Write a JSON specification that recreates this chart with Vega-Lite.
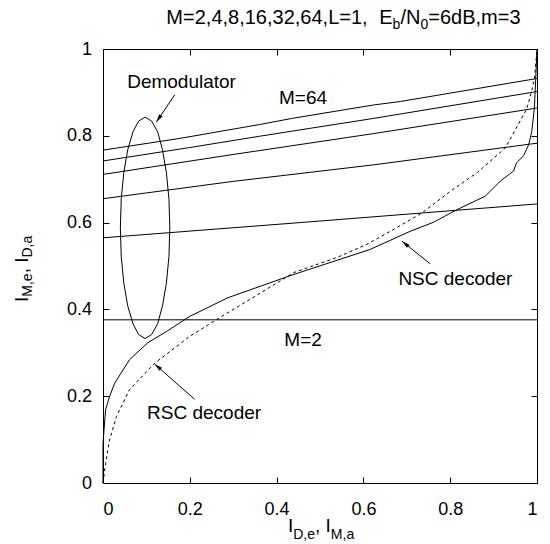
{
  "$schema": "https://vega.github.io/schema/vega-lite/v6.json",
  "width": 434,
  "height": 434,
  "autosize": {"type": "none"},
  "padding": {"left": 103, "top": 49, "right": 13, "bottom": 61},
  "background": "white",
  "config": {
    "view": {"stroke": null},
    "font": "Liberation Sans",
    "axis": {
      "domainColor": "black", "domainWidth": 1, "tickColor": "black", "tickWidth": 1,
      "tickSize": -6, "labelColor": "black", "labelFont": "Liberation Sans",
      "labelFontSize": 18, "grid": false, "title": null
    }
  },
  "datasets": {
    "mlines": [
      {"M": 64, "x": 0, "y": 0.767}, {"M": 64, "x": 0.177, "y": 0.794}, {"M": 64, "x": 0.361, "y": 0.826}, {"M": 64, "x": 0.435, "y": 0.84}, {"M": 64, "x": 0.623, "y": 0.871}, {"M": 64, "x": 0.685, "y": 0.879}, {"M": 64, "x": 1, "y": 0.932},
      {"M": 32, "x": 0, "y": 0.742}, {"M": 32, "x": 0.2, "y": 0.773}, {"M": 32, "x": 0.361, "y": 0.799}, {"M": 32, "x": 0.45, "y": 0.813}, {"M": 32, "x": 0.623, "y": 0.84}, {"M": 32, "x": 1, "y": 0.902},
      {"M": 16, "x": 0, "y": 0.711}, {"M": 16, "x": 0.3, "y": 0.757}, {"M": 16, "x": 0.623, "y": 0.805}, {"M": 16, "x": 1, "y": 0.864},
      {"M": 8, "x": 0, "y": 0.655}, {"M": 8, "x": 0.3, "y": 0.695}, {"M": 8, "x": 0.623, "y": 0.733}, {"M": 8, "x": 1, "y": 0.783},
      {"M": 4, "x": 0, "y": 0.565}, {"M": 4, "x": 0.454, "y": 0.6}, {"M": 4, "x": 1, "y": 0.643},
      {"M": 2, "x": 0, "y": 0.376}, {"M": 2, "x": 1, "y": 0.376}
    ],
    "ellipse": [
      {"x": 0.154, "y": 0.588}, {"x": 0.152, "y": 0.654}, {"x": 0.146, "y": 0.716}, {"x": 0.137, "y": 0.768}, {"x": 0.126, "y": 0.809}, {"x": 0.112, "y": 0.834},
      {"x": 0.097, "y": 0.843}, {"x": 0.082, "y": 0.834}, {"x": 0.069, "y": 0.809}, {"x": 0.057, "y": 0.768}, {"x": 0.048, "y": 0.716}, {"x": 0.042, "y": 0.654},
      {"x": 0.04, "y": 0.588}, {"x": 0.042, "y": 0.522}, {"x": 0.048, "y": 0.46}, {"x": 0.057, "y": 0.408}, {"x": 0.069, "y": 0.367}, {"x": 0.082, "y": 0.342},
      {"x": 0.097, "y": 0.333}, {"x": 0.112, "y": 0.342}, {"x": 0.126, "y": 0.367}, {"x": 0.137, "y": 0.408}, {"x": 0.146, "y": 0.46}, {"x": 0.152, "y": 0.522},
      {"x": 0.154, "y": 0.588}
    ],
    "nsc": [
      {"x": 0, "y": 0}, {"x": 0, "y": 0.092}, {"x": 0.006, "y": 0.169}, {"x": 0.015, "y": 0.199}, {"x": 0.027, "y": 0.23}, {"x": 0.061, "y": 0.284},
      {"x": 0.103, "y": 0.323}, {"x": 0.146, "y": 0.349}, {"x": 0.2, "y": 0.384}, {"x": 0.288, "y": 0.427}, {"x": 0.438, "y": 0.48}, {"x": 0.615, "y": 0.538},
      {"x": 0.708, "y": 0.58}, {"x": 0.762, "y": 0.601}, {"x": 0.816, "y": 0.63}, {"x": 0.881, "y": 0.661}, {"x": 0.916, "y": 0.696}, {"x": 0.946, "y": 0.719},
      {"x": 0.953, "y": 0.738}, {"x": 0.969, "y": 0.754}, {"x": 0.981, "y": 0.78}, {"x": 0.988, "y": 0.81}, {"x": 0.994, "y": 0.864}, {"x": 0.997, "y": 0.93},
      {"x": 1, "y": 1}
    ],
    "rsc": [
      {"x": 0, "y": 0}, {"x": 0.006, "y": 0.045}, {"x": 0.015, "y": 0.099}, {"x": 0.031, "y": 0.153}, {"x": 0.061, "y": 0.215}, {"x": 0.119, "y": 0.276},
      {"x": 0.2, "y": 0.338}, {"x": 0.277, "y": 0.386}, {"x": 0.35, "y": 0.43}, {"x": 0.44, "y": 0.485}, {"x": 0.54, "y": 0.52}, {"x": 0.608, "y": 0.55},
      {"x": 0.662, "y": 0.58}, {"x": 0.735, "y": 0.622}, {"x": 0.8, "y": 0.672}, {"x": 0.862, "y": 0.715}, {"x": 0.927, "y": 0.772}, {"x": 0.976, "y": 0.861},
      {"x": 0.987, "y": 0.9}, {"x": 0.994, "y": 0.93}, {"x": 1, "y": 1}
    ],
    "arrows": [
      {"a": "demod", "x": 0.165, "y": 0.894}, {"a": "demod", "x": 0.123, "y": 0.832},
      {"a": "nsc", "x": 0.754, "y": 0.505}, {"a": "nsc", "x": 0.689, "y": 0.557},
      {"a": "rsc", "x": 0.211, "y": 0.193}, {"a": "rsc", "x": 0.119, "y": 0.274}
    ],
    "heads": [
      {"a": "demod", "x": 0.123, "y": 0.832},
      {"a": "nsc", "x": 0.689, "y": 0.557},
      {"a": "rsc", "x": 0.119, "y": 0.274}
    ],
    "ann": [
      {"t": "Demodulator", "x": 0.181, "y": 0.924},
      {"t": "M=64", "x": 0.461, "y": 0.887},
      {"t": "M=2", "x": 0.461, "y": 0.33},
      {"t": "NSC decoder", "x": 0.812, "y": 0.469},
      {"t": "RSC decoder", "x": 0.233, "y": 0.162}
    ],
    "pieces": [
      {"r": "tm", "t": "M=2,4,8,16,32,64,L=1,", "x": 0.146, "y": 1.057},
      {"r": "tm", "t": "E", "x": 0.6365, "y": 1.057},
      {"r": "ts", "t": "b", "x": 0.6673, "y": 1.047},
      {"r": "tm", "t": "/N", "x": 0.6853, "y": 1.057},
      {"r": "ts", "t": "0", "x": 0.7315, "y": 1.047},
      {"r": "tm", "t": "=6dB,m=3", "x": 0.7495, "y": 1.057},
      {"r": "xm", "t": "I", "x": 0.426, "y": -0.112},
      {"r": "xs", "t": "D,e", "x": 0.4382, "y": -0.128},
      {"r": "xm", "t": ", I", "x": 0.4885, "y": -0.112},
      {"r": "xs", "t": "M,a", "x": 0.525, "y": -0.128},
      {"r": "ym", "t": "I", "x": -0.1737, "y": 0.417},
      {"r": "ys", "t": "M,e", "x": -0.163, "y": 0.4292},
      {"r": "ym", "t": ", I", "x": -0.1737, "y": 0.4831},
      {"r": "ys", "t": "D,a", "x": -0.163, "y": 0.5196}
    ]
  },
  "layer": [
    {
      "data": {"name": "mlines"},
      "mark": {"type": "line", "color": "black", "strokeWidth": 1},
      "encoding": {
        "x": {"field": "x", "type": "quantitative", "scale": {"domain": [0, 1], "nice": false},
              "axis": {"orient": "bottom", "values": [0, 0.2, 0.4, 0.6, 0.8, 1], "format": "~g", "labelPadding": 23}},
        "y": {"field": "y", "type": "quantitative", "scale": {"domain": [0, 1], "nice": false},
              "axis": {"orient": "left", "values": [0, 0.2, 0.4, 0.6, 0.8, 1], "format": "~g", "labelPadding": 17.5}},
        "detail": {"field": "M", "type": "nominal"}
      }
    },
    {
      "data": {"name": "ellipse"},
      "mark": {"type": "line", "color": "black", "strokeWidth": 1},
      "encoding": {
        "x": {"field": "x", "type": "quantitative", "scale": {"domain": [0, 1], "nice": false},
              "axis": {"orient": "top", "values": [0, 0.2, 0.4, 0.6, 0.8, 1], "labels": false}},
        "y": {"field": "y", "type": "quantitative", "scale": {"domain": [0, 1], "nice": false},
              "axis": {"orient": "right", "values": [0, 0.2, 0.4, 0.6, 0.8, 1], "labels": false}},
        "order": {"value": null}
      }
    },
    {
      "data": {"name": "nsc"},
      "mark": {"type": "line", "color": "black", "strokeWidth": 1},
      "encoding": {
        "x": {"field": "x", "type": "quantitative", "scale": {"domain": [0, 1], "nice": false}, "axis": null},
        "y": {"field": "y", "type": "quantitative", "scale": {"domain": [0, 1], "nice": false}, "axis": null},
        "order": {"value": null}
      }
    },
    {
      "data": {"name": "rsc"},
      "mark": {"type": "line", "color": "black", "strokeWidth": 1, "strokeDash": [3, 3]},
      "encoding": {
        "x": {"field": "x", "type": "quantitative", "scale": {"domain": [0, 1], "nice": false}, "axis": null},
        "y": {"field": "y", "type": "quantitative", "scale": {"domain": [0, 1], "nice": false}, "axis": null},
        "order": {"value": null}
      }
    },
    {
      "data": {"name": "arrows"},
      "mark": {"type": "line", "color": "black", "strokeWidth": 1},
      "encoding": {
        "x": {"field": "x", "type": "quantitative", "scale": {"domain": [0, 1], "nice": false}, "axis": null},
        "y": {"field": "y", "type": "quantitative", "scale": {"domain": [0, 1], "nice": false}, "axis": null},
        "detail": {"field": "a", "type": "nominal"},
        "order": {"value": null}
      }
    },
    {
      "data": {"name": "heads"},
      "transform": [{"filter": "datum.a === 'demod'"}],
      "mark": {"type": "point", "shape": "M0,0L0.5,2L-0.5,2Z", "size": 64, "filled": true, "color": "black", "opacity": 1, "angle": 214},
      "encoding": {
        "x": {"field": "x", "type": "quantitative", "scale": {"domain": [0, 1], "nice": false}, "axis": null},
        "y": {"field": "y", "type": "quantitative", "scale": {"domain": [0, 1], "nice": false}, "axis": null}
      }
    },
    {
      "data": {"name": "heads"},
      "transform": [{"filter": "datum.a === 'nsc'"}],
      "mark": {"type": "point", "shape": "M0,0L0.5,2L-0.5,2Z", "size": 64, "filled": true, "color": "black", "opacity": 1, "angle": 309},
      "encoding": {
        "x": {"field": "x", "type": "quantitative", "scale": {"domain": [0, 1], "nice": false}, "axis": null},
        "y": {"field": "y", "type": "quantitative", "scale": {"domain": [0, 1], "nice": false}, "axis": null}
      }
    },
    {
      "data": {"name": "heads"},
      "transform": [{"filter": "datum.a === 'rsc'"}],
      "mark": {"type": "point", "shape": "M0,0L0.5,2L-0.5,2Z", "size": 64, "filled": true, "color": "black", "opacity": 1, "angle": 311},
      "encoding": {
        "x": {"field": "x", "type": "quantitative", "scale": {"domain": [0, 1], "nice": false}, "axis": null},
        "y": {"field": "y", "type": "quantitative", "scale": {"domain": [0, 1], "nice": false}, "axis": null}
      }
    },
    {
      "data": {"name": "ann"},
      "mark": {"type": "text", "fontSize": 19, "color": "black", "align": "center", "baseline": "middle"},
      "encoding": {
        "x": {"field": "x", "type": "quantitative", "scale": {"domain": [0, 1], "nice": false}, "axis": null},
        "y": {"field": "y", "type": "quantitative", "scale": {"domain": [0, 1], "nice": false}, "axis": null},
        "text": {"field": "t"}
      }
    },
    {
      "data": {"name": "pieces"},
      "transform": [{"filter": "datum.r === 'tm'"}],
      "mark": {"type": "text", "fontSize": 20, "color": "black", "align": "left", "baseline": "alphabetic"},
      "encoding": {
        "x": {"field": "x", "type": "quantitative", "scale": {"domain": [0, 1], "nice": false}, "axis": null},
        "y": {"field": "y", "type": "quantitative", "scale": {"domain": [0, 1], "nice": false}, "axis": null},
        "text": {"field": "t"}
      }
    },
    {
      "data": {"name": "pieces"},
      "transform": [{"filter": "datum.r === 'ts'"}],
      "mark": {"type": "text", "fontSize": 14, "color": "black", "align": "left", "baseline": "alphabetic"},
      "encoding": {
        "x": {"field": "x", "type": "quantitative", "scale": {"domain": [0, 1], "nice": false}, "axis": null},
        "y": {"field": "y", "type": "quantitative", "scale": {"domain": [0, 1], "nice": false}, "axis": null},
        "text": {"field": "t"}
      }
    },
    {
      "data": {"name": "pieces"},
      "transform": [{"filter": "datum.r === 'xm'"}],
      "mark": {"type": "text", "fontSize": 19, "color": "black", "align": "left", "baseline": "alphabetic"},
      "encoding": {
        "x": {"field": "x", "type": "quantitative", "scale": {"domain": [0, 1], "nice": false}, "axis": null},
        "y": {"field": "y", "type": "quantitative", "scale": {"domain": [0, 1], "nice": false}, "axis": null},
        "text": {"field": "t"}
      }
    },
    {
      "data": {"name": "pieces"},
      "transform": [{"filter": "datum.r === 'xs'"}],
      "mark": {"type": "text", "fontSize": 14, "color": "black", "align": "left", "baseline": "alphabetic"},
      "encoding": {
        "x": {"field": "x", "type": "quantitative", "scale": {"domain": [0, 1], "nice": false}, "axis": null},
        "y": {"field": "y", "type": "quantitative", "scale": {"domain": [0, 1], "nice": false}, "axis": null},
        "text": {"field": "t"}
      }
    },
    {
      "data": {"name": "pieces"},
      "transform": [{"filter": "datum.r === 'ym'"}],
      "mark": {"type": "text", "fontSize": 19, "color": "black", "align": "left", "baseline": "alphabetic", "angle": 270},
      "encoding": {
        "x": {"field": "x", "type": "quantitative", "scale": {"domain": [0, 1], "nice": false}, "axis": null},
        "y": {"field": "y", "type": "quantitative", "scale": {"domain": [0, 1], "nice": false}, "axis": null},
        "text": {"field": "t"}
      }
    },
    {
      "data": {"name": "pieces"},
      "transform": [{"filter": "datum.r === 'ys'"}],
      "mark": {"type": "text", "fontSize": 14, "color": "black", "align": "left", "baseline": "alphabetic", "angle": 270},
      "encoding": {
        "x": {"field": "x", "type": "quantitative", "scale": {"domain": [0, 1], "nice": false}, "axis": null},
        "y": {"field": "y", "type": "quantitative", "scale": {"domain": [0, 1], "nice": false}, "axis": null},
        "text": {"field": "t"}
      }
    }
  ],
  "resolve": {"axis": {"x": "independent", "y": "independent"}}
}
